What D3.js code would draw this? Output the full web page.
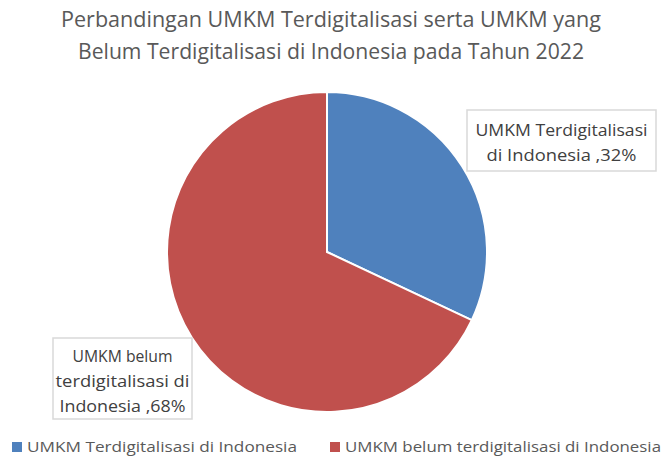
<!DOCTYPE html>
<html>
<head>
<meta charset="utf-8">
<script src="https://cdn.jsdelivr.net/npm/d3@7"></script>
<style>
  body { margin: 0; background: #fff; }
  text { font-family: "Open Sans", "Noto Sans", sans-serif; }
</style>
</head>
<body>
<div id="chart"></div>
<script>
// data
const categories = ["UMKM Terdigitalisasi di Indonesia", "UMKM belum terdigitalisasi di Indonesia"];
const values = [32, 68];
const labelLines = [
  ["UMKM Terdigitalisasi", "di Indonesia ,32%"],
  ["UMKM belum", "terdigitalisasi di", "Indonesia ,68%"]
];
const titleLines = ["Perbandingan UMKM Terdigitalisasi serta UMKM yang", "Belum Terdigitalisasi di Indonesia pada Tahun 2022"];

(function pie(){
  let width = 663, height = 462;
  const cx = 327, cy = 252, radius = 160;

  const svg = d3.select("#chart")
    .append("svg")
    .attr("width", width)
    .attr("height", height);

  const color = d3.scaleOrdinal()
    .domain(categories)
    .range(["#4F81BD", "#C0504D"]);

  // title
  svg.selectAll(".title")
    .data(titleLines)
    .join("text")
    .attr("class", "title")
    .attr("x", 331)
    .attr("y", (d, i) => 27 + i * 32)
    .attr("text-anchor", "middle")
    .attr("textLength", (d, i) => i == 0 ? 540 : 506)
    .attr("lengthAdjust", "spacingAndGlyphs")
    .style("font-size", "21px")
    .style("fill", "#595959")
    .text(d => d);

  const pieGen = d3.pie().sort(null).value(d => d);
  const arc = d3.arc().innerRadius(0).outerRadius(radius);

  const g = svg.append("g").attr("transform", `translate(${cx},${cy})`);
  g.selectAll("path")
    .data(pieGen(values))
    .join("path")
    .attr("d", arc)
    .attr("fill", (d, i) => color(categories[i]))
    .attr("stroke", "#fff")
    .attr("stroke-width", 2);

  // data label boxes (text widths fitted to the reference)
  const boxes = [
    { x: 467, y: 110, w: 189, h: 61, ty: 136, lens: [172, 150] },
    { x: 53, y: 338, w: 139, h: 81, ty: 362, lens: [100, 134, 126] }
  ];
  boxes.forEach((b, i) => {
    svg.append("rect")
      .attr("x", b.x).attr("y", b.y)
      .attr("width", b.w).attr("height", b.h)
      .attr("fill", "#fff")
      .attr("stroke", "#d9d9d9")
      .attr("stroke-width", 1.5);
    svg.append("text")
      .attr("text-anchor", "middle")
      .style("font-size", "16.5px")
      .style("fill", "#404040")
      .selectAll("tspan")
      .data(labelLines[i])
      .join("tspan")
      .attr("x", b.x + b.w / 2)
      .attr("y", (d, j) => b.ty + j * 25)
      .attr("textLength", (d, j) => b.lens[j])
      .attr("lengthAdjust", "spacingAndGlyphs")
      .text(d => d);
  });

  // legend
  const legendX = [12, 330];
  const leg = svg.selectAll(".leg")
    .data(categories)
    .join("g")
    .attr("class", "leg")
    .attr("transform", (d, i) => `translate(${legendX[i]},442)`);
  leg.append("rect")
    .attr("width", 10).attr("height", 10)
    .attr("fill", d => color(d));
  leg.append("text")
    .attr("x", 15)
    .attr("y", 10)
    .attr("textLength", (d, i) => i == 0 ? 270 : 316)
    .attr("lengthAdjust", "spacingAndGlyphs")
    .style("font-size", "15px")
    .style("fill", "#595959")
    .text(d => d);
})();
</script>
</body>
</html>
